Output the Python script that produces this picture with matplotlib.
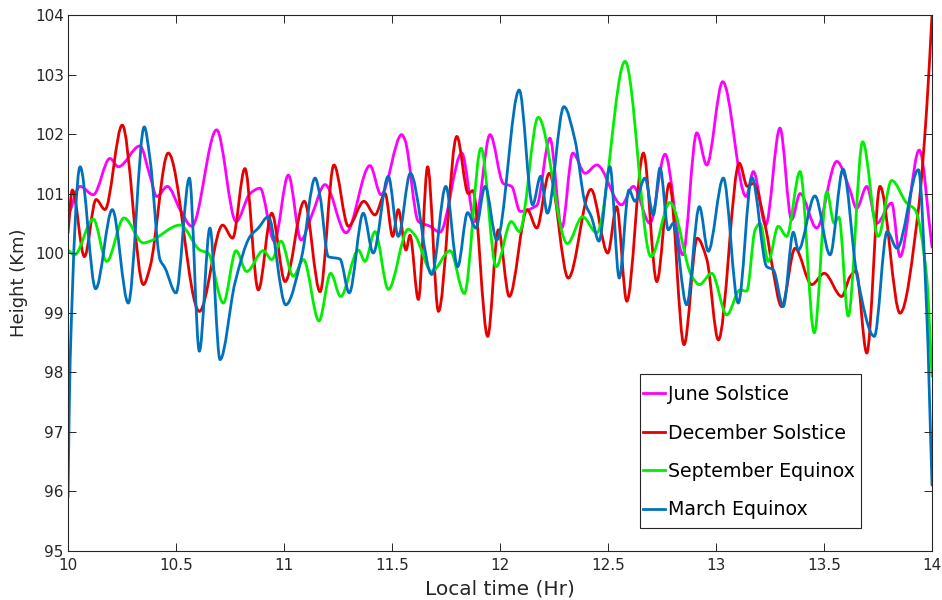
import matplotlib
matplotlib.use("Agg")
import matplotlib.pyplot as plt
from matplotlib.path import Path
from matplotlib.patches import PathPatch, Rectangle
from matplotlib.lines import Line2D

# Local time (hr) and height (km) for each season
june_t = [10.0, 10.056, 10.117, 10.194, 10.233, 10.333, 10.38, 10.411, 10.46, 10.519, 10.573,
          10.688, 10.778, 10.843, 10.889, 10.955, 11.02, 11.079, 11.128, 11.19, 11.287, 11.398,
          11.449, 11.545, 11.56, 11.622, 11.676, 11.722, 11.823, 11.884, 11.954, 12.015, 12.054,
          12.093, 12.17, 12.231, 12.286, 12.337, 12.394, 12.448, 12.563, 12.617, 12.694, 12.764,
          12.846, 12.911, 12.957, 13.031, 13.139, 13.173, 13.23, 13.296, 13.35, 13.389, 13.466,
          13.559, 13.62, 13.651, 13.698, 13.744, 13.813, 13.852, 13.941, 14.0]
june_h = [100.6, 101.12, 100.98, 101.59, 101.45, 101.8, 101.29, 100.95, 101.12, 100.73, 100.45,
          102.07, 100.53, 101.0, 101.09, 100.2, 101.31, 100.22, 100.63, 101.15, 100.34, 101.47,
          100.98, 101.99, 101.9, 100.53, 100.45, 100.35, 101.68, 100.53, 101.99, 101.17, 101.12,
          100.7, 100.8, 101.93, 100.42, 101.68, 101.34, 101.48, 100.81, 101.12, 100.5, 101.66,
          99.97, 102.02, 101.48, 102.88, 100.95, 101.37, 100.47, 102.1, 100.56, 101.0, 100.42,
          101.54, 101.06, 100.75, 101.12, 100.5, 100.84, 99.94, 101.73, 100.1]

dec_t = [10.0, 10.02, 10.076, 10.13, 10.171, 10.251, 10.349, 10.38, 10.464, 10.608, 10.716,
         10.762, 10.819, 10.881, 10.943, 11.005, 11.094, 11.167, 11.231, 11.298, 11.37, 11.421,
         11.468, 11.503, 11.529, 11.565, 11.583, 11.622, 11.665, 11.715, 11.8, 11.853, 11.874,
         11.943, 11.992, 12.043, 12.126, 12.17, 12.228, 12.316, 12.421, 12.499, 12.54, 12.587,
         12.664, 12.726, 12.784, 12.852, 12.913, 12.957, 13.011, 13.108, 13.145, 13.173, 13.234,
         13.258, 13.304, 13.366, 13.443, 13.501, 13.582, 13.62, 13.648, 13.698, 13.759, 13.852,
         13.937, 13.975, 14.0]
dec_h = [100.34, 101.06, 99.94, 100.9, 100.73, 102.15, 99.47, 99.77, 101.68, 99.02, 100.47,
         100.25, 101.42, 99.38, 100.67, 99.52, 100.87, 99.35, 101.48, 100.45, 100.87, 100.64,
         101.0, 100.28, 100.73, 100.05, 100.3, 99.22, 101.45, 99.02, 101.96, 101.0, 101.05,
         98.6, 100.39, 99.27, 100.73, 100.42, 101.34, 99.58, 101.07, 100.0, 100.78, 99.19,
         101.68, 99.52, 101.17, 98.46, 100.25, 99.9, 98.54, 101.51, 101.12, 101.17, 100.35,
         99.83, 99.1, 100.08, 99.47, 99.66, 99.27, 99.6, 99.7, 98.32, 101.12, 98.99,
         100.73, 102.41, 104.0]

sep_t = [10.0, 10.03, 10.117, 10.179, 10.259, 10.349, 10.38, 10.519, 10.611, 10.648, 10.719,
         10.778, 10.827, 10.904, 10.943, 10.986, 11.043, 11.09, 11.162, 11.216, 11.262, 11.344,
         11.375, 11.421, 11.483, 11.575, 11.606, 11.684, 11.769, 11.835, 11.912, 11.982, 12.052,
         12.09, 12.177, 12.312, 12.382, 12.448, 12.579, 12.699, 12.787, 12.888, 12.923, 12.98,
         13.05, 13.111, 13.142, 13.181, 13.204, 13.242, 13.288, 13.327, 13.389, 13.455, 13.513,
         13.547, 13.569, 13.612, 13.679, 13.751, 13.813, 13.883, 13.921, 13.975, 14.0]
sep_h = [100.05, 99.97, 100.57, 99.86, 100.59, 100.17, 100.2, 100.47, 100.05, 100.0, 99.16,
         100.04, 99.69, 100.04, 99.89, 100.2, 99.61, 99.89, 98.86, 99.66, 99.27, 100.05,
         99.86, 100.36, 99.39, 100.4, 100.3, 99.69, 100.04, 99.32, 101.76, 99.77, 100.53,
         100.36, 102.28, 100.16, 100.61, 100.34, 103.22, 99.94, 100.85, 99.61, 99.47, 99.66,
         98.96, 99.38, 99.36, 100.39, 100.5, 99.86, 100.45, 100.28, 101.37, 98.66, 101.03,
         100.5, 100.6, 98.94, 101.87, 100.28, 101.22, 100.84, 100.73, 99.61, 97.93]

mar_t = [10.0, 10.01, 10.056, 10.128, 10.205, 10.279, 10.353, 10.38, 10.426, 10.449, 10.5,
         10.562, 10.608, 10.657, 10.704, 10.773, 10.843, 10.881, 10.927, 11.008, 11.082, 11.144,
         11.167, 11.205, 11.259, 11.302, 11.367, 11.413, 11.483, 11.529, 11.585, 11.684, 11.749,
         11.804, 11.85, 11.888, 11.931, 11.985, 12.089, 12.151, 12.188, 12.219, 12.296, 12.347,
         12.394, 12.424, 12.458, 12.509, 12.552, 12.597, 12.625, 12.671, 12.71, 12.741, 12.779,
         12.802, 12.864, 12.923, 12.964, 13.034, 13.103, 13.166, 13.235, 13.265, 13.311, 13.358,
         13.381, 13.458, 13.528, 13.588, 13.653, 13.733, 13.792, 13.838, 13.937, 13.975, 14.0]
mar_h = [95.9, 98.2, 101.45, 99.4, 100.73, 99.16, 102.12, 101.57, 99.89, 99.75, 99.33,
         101.26, 98.35, 100.42, 98.21, 99.5, 100.28, 100.42, 100.61, 99.13, 99.94, 101.26,
         100.95, 99.94, 99.9, 99.33, 100.67, 100.0, 101.29, 100.28, 101.34, 99.64, 101.12,
         99.77, 100.68, 100.42, 101.12, 100.22, 102.74, 100.81, 101.29, 100.67, 102.46, 101.9,
         100.84, 100.6, 100.2, 101.45, 99.58, 101.06, 100.87, 101.26, 100.64, 101.43, 100.39,
         100.5, 99.13, 100.78, 100.03, 101.26, 99.16, 101.27, 99.77, 99.72, 99.1, 100.35,
         100.05, 100.96, 99.97, 101.41, 99.61, 98.6, 100.36, 100.08, 101.4, 99.05, 96.1]

names = ["June Solstice", "December Solstice", "September Equinox", "March Equinox"]
colors = ["#FF00FF", "#E60000", "#00EE00", "#0072BD"]
times = [june_t, dec_t, sep_t, mar_t]
heights = [june_h, dec_h, sep_h, mar_h]

x_ticks = [10, 10.5, 11, 11.5, 12, 12.5, 13, 13.5, 14]
x_labels = ["10", "10.5", "11", "11.5", "12", "12.5", "13", "13.5", "14"]
y_ticks = [95, 96, 97, 98, 99, 100, 101, 102, 103, 104]


def smooth_path(x, y):
    """Cubic Bezier path through the points with shape-preserving tangents."""
    n = len(x)
    d = [(y[i + 1] - y[i]) / (x[i + 1] - x[i]) for i in range(n - 1)]
    m = [0.0] * n
    m[0], m[-1] = d[0], d[-1]
    for i in range(1, n - 1):
        if d[i - 1] * d[i] <= 0:
            m[i] = 0.0
        else:
            h0, h1 = x[i] - x[i - 1], x[i + 1] - x[i]
            w1, w2 = 2 * h1 + h0, h1 + 2 * h0
            m[i] = (w1 + w2) / (w1 / d[i - 1] + w2 / d[i])
    verts = [(x[0], y[0])]
    codes = [Path.MOVETO]
    for i in range(n - 1):
        h = x[i + 1] - x[i]
        verts += [(x[i] + h / 3, y[i] + m[i] * h / 3),
                  (x[i + 1] - h / 3, y[i + 1] - m[i + 1] * h / 3),
                  (x[i + 1], y[i + 1])]
        codes += [Path.CURVE4] * 3
    return Path(verts, codes)


fig = plt.figure(figsize=(9.42, 6.0), dpi=100)
ax = fig.add_axes([0.0722, 0.0823, 0.9172, 0.8927])

for t, h, c in zip(times, heights, colors):
    ax.add_patch(PathPatch(smooth_path(t, h), facecolor="none", edgecolor=c,
                           lw=2.0, joinstyle="round", capstyle="round"))

ax.set_xlim(10, 14)
ax.set_ylim(95, 104)
ax.set_xticks(x_ticks)
ax.set_xticklabels(x_labels)
ax.set_yticks(y_ticks)

for lab in ax.get_xticklabels() + ax.get_yticklabels():
    lab.set_fontsize(11)
    lab.set_color("#262626")

ax.tick_params(direction="in", length=6, width=0.7, colors="#262626",
               top=True, right=True, pad=3)
ax.tick_params(axis="x", pad=5)
for sp in ax.spines.values():
    sp.set_linewidth(0.8)
    sp.set_color("#262626")

ax.set_xlabel("Local time (Hr)", fontsize=14.5, color="#262626", labelpad=5)
ax.set_ylabel("Height (Km)", fontsize=13, color="#262626", labelpad=5)

# legend: framed box with short colour handles
ax.add_patch(Rectangle((0.662, 0.0422), 0.2556, 0.2875, transform=ax.transAxes,
                       facecolor="white", edgecolor="#262626", lw=0.8, zorder=5))
handles = [Line2D([], [], color=c, lw=2.0) for c in colors]
leg = ax.legend(handles, names, loc="upper left", bbox_to_anchor=(0.6655, 0.309),
                fontsize=13.7, frameon=False, handlelength=1.15, handletextpad=0.15,
                labelspacing=1.02, borderpad=0, borderaxespad=0)
leg.set_zorder(6)

fig.savefig("out.png", dpi=100)
